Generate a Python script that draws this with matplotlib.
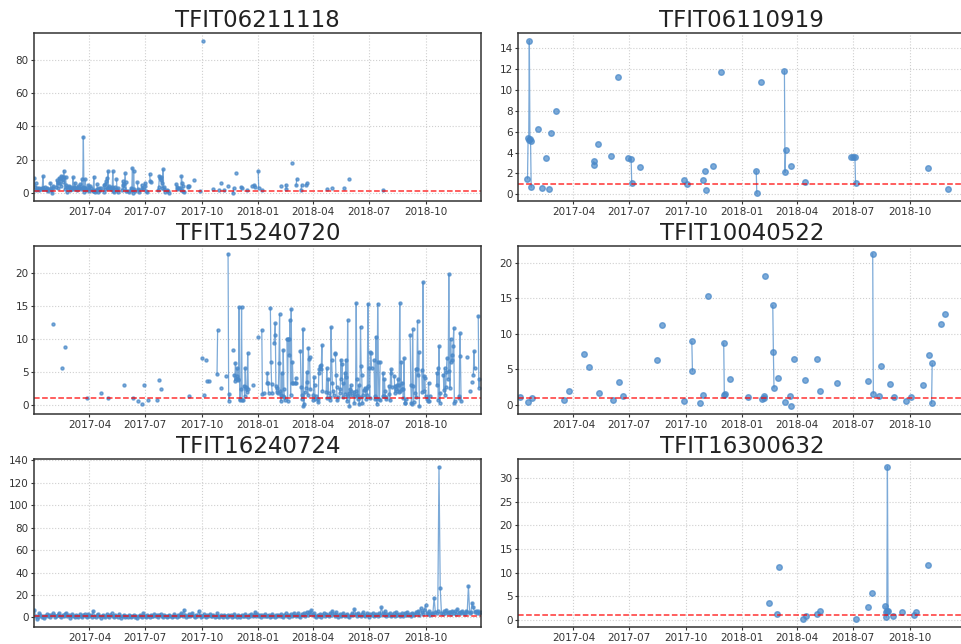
import numpy as np
import pandas as pd
import matplotlib
matplotlib.use("Agg")
import matplotlib.pyplot as plt
import matplotlib.dates as mdates
from matplotlib.ticker import MultipleLocator

# daily readings, each run = (first day, consecutive daily values); gaps = no reading
runs_06211118 = [
    ("2017-01-01", [8.8, 3.5, 5.5, 1.5, 2.5]),
    ("2017-01-08", [3.0, 1.5, 2.0]),
    ("2017-01-13", [2.0, 2.5, 10.0, 3.0, 2.0, 3.5]),
    ("2017-01-21", [1.5, 3.0, 2.0, 0.8]),
    ("2017-01-27", [6.0, 3.0, 1.5, -0.5, 2.5, 4.0]),
    ("2017-02-06", [3.5, 7.5, 2.5, 6.0, 9.0, 5.5, 8.0, 10.0, 4.0, 9.5, 6.5, 8.0, 13.3, 9.5, 2.0, 9.5, 4.5, 0.5, 3.5]),
    ("2017-02-26", [2.5, 4.0, 1.5, 3.5, 2.0, 3.0, 2.0, 9.3, 3.5, 2.0, 6.0, 2.5, 3.0]),
    ("2017-03-12", [1.5, 4.0, 2.5, 3.0]),
    ("2017-03-17", [5.0, 2.0, 3.0, 8.0, 3.5, 33.8, 0.5, 2.5, 8.0, 3.0, 1.5]),
    ("2017-03-30", [4.5, 2.0, 1.0, 4.0, 3.0]),
    ("2017-04-06", [1.5, 1.0, 9.7, 1.0, 0.5, 1.5]),
    ("2017-04-13", [5.0, 2.0, 0.5, 1.5, 3.0, 1.5, 2.5]),
    ("2017-04-24", [4.5, 0.5, 2.0, 5.0, 7.0, 9.0, 3.0, 13.0, 2.5, 4.0, 3.0]),
    ("2017-05-06", [2.0, 3.5, 2.0, 13.0, 1.0, 0.5, 3.5, 2.0]),
    ("2017-05-15", [8.0, 1.5, 0.5, 2.5]),
    ("2017-05-24", [1.5, 7.0, 4.5, 3.0, 5.0, 11.7, 6.6, 1.0]),
    ("2017-06-03", [1.0, 0.5]),
    ("2017-06-07", [1.5, 3.0, 2.0, 14.7, -0.3, 13.3, 2.0, 1.0]),
    ("2017-06-18", [6.2, 2.0, 1.5, 0.5]),
    ("2017-06-25", [4.6, 3.0, 2.0]),
    ("2017-06-30", [5.6, 4.0, 1.0, 0.5]),
    ("2017-07-08", [11.3, 7.0, 6.5]),
    ("2017-07-22", [1.5, 3.5, 10.3, 8.7, 9.5, 7.5, 6.0, 3.0, 14.0, 3.6, 2.0, 0.5]),
    ("2017-08-06", [1.5, 0.8, -0.4]),
    ("2017-08-20", [5.0, 3.5, 2.0, 2.5]),
    ("2017-08-27", [3.0, 1.5, 10.0, 6.0, 4.0, 1.0, 0.5]),
    ("2017-09-08", [4.2, 3.5, 4.0]),
    ("2017-09-19", [7.6]),
    ("2017-09-29", [1.0]),
    ("2017-10-03", [92.0]),
    ("2017-10-19", [2.0]),
    ("2017-10-29", [1.4]),
    ("2017-11-02", [5.7]),
    ("2017-11-07", [1.4]),
    ("2017-11-13", [4.2]),
    ("2017-11-21", [-0.4, 2.5]),
    ("2017-11-26", [11.7]),
    ("2017-12-04", [3.4, 2.5]),
    ("2017-12-14", [1.8]),
    ("2017-12-22", [3.9]),
    ("2017-12-26", [4.4, 3.5]),
    ("2018-01-01", [13.1, 2.9]),
    ("2018-01-08", [1.4]),
    ("2018-02-07", [4.2]),
    ("2018-02-15", [4.8, 2.2]),
    ("2018-02-26", [17.7]),
    ("2018-03-04", [4.4, 8.0]),
    ("2018-03-12", [1.8, 4.4]),
    ("2018-03-20", [4.5, 5.5]),
    ("2018-04-24", [2.0]),
    ("2018-05-02", [2.5]),
    ("2018-05-21", [2.5]),
    ("2018-05-30", [8.0]),
    ("2018-07-23", [1.5]),
]

runs_06110919 = [
    ("2017-01-16", [1.5, 5.4, 5.2, 14.7, 5.3, 5.1, 0.7]),
    ("2017-02-02", [6.3]),
    ("2017-02-08", [0.6]),
    ("2017-02-15", [3.5]),
    ("2017-02-20", [0.5]),
    ("2017-02-23", [5.9]),
    ("2017-03-03", [7.95]),
    ("2017-05-04", [3.15, 2.85]),
    ("2017-05-11", [4.8]),
    ("2017-06-01", [3.7]),
    ("2017-06-13", [11.2]),
    ("2017-06-29", [3.5]),
    ("2017-07-04", [3.35, 1.1]),
    ("2017-07-18", [2.6]),
    ("2017-09-29", [1.35]),
    ("2017-10-03", [1.0]),
    ("2017-10-30", [1.35]),
    ("2017-11-01", [2.25]),
    ("2017-11-03", [0.4]),
    ("2017-11-15", [2.75]),
    ("2017-11-28", [11.7]),
    ("2018-01-24", [2.25, 0.1]),
    ("2018-02-01", [10.7]),
    ("2018-03-11", [11.8, 2.1, 4.25]),
    ("2018-03-21", [2.7]),
    ("2018-04-13", [1.2]),
    ("2018-06-28", [3.6]),
    ("2018-07-01", [3.6]),
    ("2018-07-04", [3.6, 1.05]),
    ("2018-10-31", [2.5]),
    ("2018-12-02", [0.55]),
]

runs_15240720 = [
    ("2017-02-01", [12.3]),
    ("2017-02-15", [5.6]),
    ("2017-02-20", [8.8]),
    ("2017-03-28", [1.0]),
    ("2017-04-19", [1.9]),
    ("2017-05-01", [1.0]),
    ("2017-05-28", [3.0]),
    ("2017-06-11", [1.0]),
    ("2017-06-19", [0.6]),
    ("2017-06-26", [0.15]),
    ("2017-06-29", [3.0]),
    ("2017-07-06", [0.75]),
    ("2017-07-20", [0.75]),
    ("2017-07-24", [3.8]),
    ("2017-07-26", [2.4]),
    ("2017-09-11", [1.4]),
    ("2017-10-02", [7.2]),
    ("2017-10-04", [1.6]),
    ("2017-10-08", [6.8]),
    ("2017-10-10", [3.6]),
    ("2017-10-13", [3.7]),
    ("2017-10-26", [4.7, 11.4]),
    ("2017-11-01", [2.6]),
    ("2017-11-10", [4.4]),
    ("2017-11-13", [23.0, 0.65, 1.7]),
    ("2017-11-21", [8.4]),
    ("2017-11-23", [4.6, 3.7, 6.4, 3.9, 4.4, 5.6, 4.0, 3.8, 14.9, 0.7, 0.9, 2.5, 14.9, 0.8, 0.7]),
    ("2017-12-09", [2.9, 1.4, 5.6, 2.5, 2.8, 2.0, 7.9, 2.5]),
    ("2017-12-24", [3.1]),
    ("2018-01-01", [10.3]),
    ("2018-01-07", [11.4, 1.7]),
    ("2018-01-11", [1.8]),
    ("2018-01-15", [3.3, 4.9, 3.4, 1.9]),
    ("2018-01-21", [14.7, 6.5, 3.2, 1.9]),
    ("2018-01-27", [9.4, 10.7, 12.4, 2.9, 2.0, 2.6]),
    ("2018-02-03", [1.9, 6.4, 13.8, 2.1, 0.6, 1.5, 4.9, 1.3, 8.4, 2.5, 1.2, 0.8]),
    ("2018-02-17", [10.1, 0.6, 10.1, 10.1, 7.6, 12.9, 1.5, 14.6, 3.4, 6.5, 3.3]),
    ("2018-03-02", [3.4, 3.3, 4.1]),
    ("2018-03-11", [8.2, 2.8, 0.85, 1.5, 11.5, -0.2, 0.2, 2.0]),
    ("2018-03-20", [2.6, 5.0, 3.5, 1.5, 8.7, 7.0, 7.3, 2.4]),
    ("2018-03-31", [0.8, 1.6, 4.2, 3.0, 0.9, 1.3]),
    ("2018-04-08", [0.85, 0.4, 4.9, 5.4, 6.0, 6.1, 5.5, 9.1, 2.2]),
    ("2018-04-22", [2.0, 5.6, 1.0, 3.9, 1.9]),
    ("2018-04-28", [0.8, 1.2, 11.8, 6.8, 3.4, 2.1, 1.6]),
    ("2018-05-06", [7.7, 7.9, 4.5, 2.7, 0.7, 1.2]),
    ("2018-05-14", [1.9, 2.5, 6.9, 4.0, 6.3, 1.2, 3.3]),
    ("2018-05-22", [4.9, 1.7, 6.9, 4.2, 0.6, 12.9, 1.4, 1.9, -0.2, 2.4, 3.0, 2.1, 1.5]),
    ("2018-06-06", [2.0, 0.3, 1.4, 2.2, 15.5, 3.9, 1.6, 0.9, 3.0, 0.1, 1.2, 11.9, 6.0, 4.6, 0.3, 1.5, 2.3]),
    ("2018-06-24", [2.6, 2.3, 0.9, 2.6, 1.5, 15.4, 2.9, 5.6, 1.1, 8.0, 7.9, 5.6]),
    ("2018-07-09", [6.8, 1.3, 0.9, 10.4, 1.1, 0.2, 15.4, 6.6, 0.9, 0.8, 6.6]),
    ("2018-07-23", [1.35, 4.9, 1.3, 3.9, 2.2, 0.9, 1.2]),
    ("2018-08-02", [2.9, 1.7, 0.7, 4.9, 5.4, 2.7]),
    ("2018-08-11", [4.4, 1.8, 2.9, 2.5, 3.0, 2.2, 3.9, 2.0, 3.0, 15.5, 2.1, 6.6, 2.5, 3.4, 2.4, 1.0, 7.1, 0.35, 0.3, 0.85]),
    ("2018-09-06", [10.6, 3.1, 0.3, 0.2, 11.5, 2.9, 0.5]),
    ("2018-09-14", [1.9, 5.5, 1.2, 5.4, 12.8, 4.5, 8.0, -0.2]),
    ("2018-09-25", [5.3, 2.0, 18.7, 2.1, 4.4, 4.1, 1.3]),
    ("2018-10-04", [0.85, 0.6, 3.4, 0.6, 1.35]),
    ("2018-10-19", [4.9, 3.0, 5.6, 0.8, 8.9, 0.35, 1.9]),
    ("2018-10-30", [4.6, 2.3, 5.6, 1.6, 2.7, 5.0, 7.1]),
    ("2018-11-07", [4.0, 19.9, 5.1, 2.6, 10.1, 6.6, 7.6, 6.8, 9.0, 11.7, 0.35, 0.6]),
    ("2018-11-24", [1.35, 1.0, 10.9, 7.4, 0.6]),
    ("2018-12-07", [7.3]),
    ("2018-12-12", [2.1]),
    ("2018-12-16", [3.5]),
    ("2018-12-18", [4.6, 8.2, 5.6]),
    ("2018-12-26", [13.5, 2.6, 4.0]),
]

runs_10040522 = [
    ("2017-01-03", [1.08]),
    ("2017-01-17", [0.47]),
    ("2017-01-23", [0.94]),
    ("2017-03-17", [0.66]),
    ("2017-03-24", [1.9]),
    ("2017-04-18", [7.2]),
    ("2017-04-27", [5.3]),
    ("2017-05-12", [1.64]),
    ("2017-06-05", [0.66]),
    ("2017-06-14", [3.3]),
    ("2017-06-21", [1.26]),
    ("2017-08-16", [6.3]),
    ("2017-08-24", [11.3]),
    ("2017-09-29", [0.56]),
    ("2017-10-11", [8.95, 4.8]),
    ("2017-10-24", [0.23]),
    ("2017-10-30", [1.36]),
    ("2017-11-07", [15.4]),
    ("2017-12-02", [8.7, 1.45, 1.6]),
    ("2017-12-12", [3.6]),
    ("2018-01-10", [1.17]),
    ("2018-02-02", [0.84]),
    ("2018-02-05", [1.3, 0.94]),
    ("2018-02-08", [18.1]),
    ("2018-02-20", [14.0, 7.45, 2.4]),
    ("2018-02-28", [3.75]),
    ("2018-03-12", [0.42]),
    ("2018-03-20", [1.3]),
    ("2018-03-22", [-0.2]),
    ("2018-03-27", [6.5]),
    ("2018-04-13", [3.5]),
    ("2018-05-03", [6.4]),
    ("2018-05-08", [2.0]),
    ("2018-06-05", [3.1]),
    ("2018-07-25", [3.4]),
    ("2018-08-02", [21.3, 1.6]),
    ("2018-08-13", [1.26]),
    ("2018-08-15", [5.5]),
    ("2018-08-30", [2.9]),
    ("2018-09-06", [1.08]),
    ("2018-09-25", [0.5]),
    ("2018-10-03", [1.17]),
    ("2018-10-23", [2.76]),
    ("2018-11-01", [7.0]),
    ("2018-11-06", [0.23, 5.85]),
    ("2018-11-21", [11.4]),
    ("2018-11-28", [12.8]),
]

# TFIT16240724: read every second day, 2017-01-01 .. 2018-12-30
values_16240724 = [
    7.0, 1.5, -1.8, 0.5, 3.5, 2.0, 0.5, 1.0, -0.5, 0.8, 3.0, 1.5, 2.5, 0.5, 1.8, 3.5, 2.0, 0.2, 1.0, 2.5,
    4.0, 1.5, 0.5, 2.5, 1.0, 3.0, 4.0, 0.8, 2.0, -0.5, 1.5, 3.0, 1.0, 0.5, 2.0, 1.5, 0.5, 2.8, 1.0, 0.3,
    2.5, 3.0, 1.2, 0.5, 3.0, 1.0, 2.5, 0.5, 5.5, 1.5, 0.5, 2.0, 3.0, 0.8, -0.5, 1.5, 2.5, 1.0, 0.3, 3.0,
    1.5, 0.5, 2.5, 3.5, 1.0, 0.2, 2.0, 1.5, 0.5, 3.0, 1.0, -0.3, 1.5, 2.5, 0.5, 1.0, 0.5, 2.0, 1.5, 0.3,
    1.0, 2.5, 0.5, 1.5, -0.5, 0.8, 2.0, 1.0, 0.5, 3.5, 1.5, 0.5, 2.0, 1.0, 0.3, 2.5, 1.5, 0.8, 3.0, 1.0,
    2.5, 0.5, 1.8, 3.0, 1.0, 0.5, 2.0, 1.5, 0.2, 1.0, 2.5, 1.0, 0.5, 1.5, 3.0, 1.2, 0.5, 2.0, 1.0, 2.5,
    3.5, 1.0, 7.0, 2.0, 0.5, 1.5, 3.0, 0.8, 2.0, 4.0, 1.0, 0.5, 2.5, 1.5, 6.0, 2.0, 0.5, 1.0, 3.0, 1.5,
    0.5, 2.0, 1.5, 3.0, 0.8, 1.0, 2.5, 0.5, 1.5, 3.5, 1.0, 0.3, 2.0, 1.5, 0.5, 2.5, 1.0, 0.5, 1.8, 1.0,
    2.5, 0.5, 1.5, 3.0, 1.0, 0.5, 2.0, 1.2, 0.3, 2.5, 1.5, 0.8, 3.0, 1.0, 0.5, 2.0, 1.5, 3.0, 1.0, 2.5,
    5.0, 1.5, 3.0, 1.0, 2.5, 0.5, 2.0, 1.5, 3.0, 0.8, 1.0, 2.5, 0.5, 1.5, 3.0, 1.0, 0.5, 2.0, 1.5, 2.5,
    1.0, 3.0, 1.5, 0.5, 2.5, 3.5, 1.0, 2.0, 0.5, 3.0, 1.5, 2.5, 4.0, 1.0, 2.0, 3.5, 1.5, 0.5, 3.0, 2.0,
    3.5, 1.5, 4.5, 2.0, 5.0, 3.0, 6.5, 2.5, 4.0, 1.5, 0.5, 2.5, 1.0, 3.0, 0.5, 2.0, 4.0, 1.5, 3.0, 2.5,
    1.0, 4.0, 2.5, 6.0, 3.0, 1.5, 4.5, 2.0, 0.5, 3.0, 1.5, 2.5, 4.0, 1.0, 2.0, 3.0, 1.5, 0.5, 2.5, 3.5,
    2.0, 7.5, 3.0, 1.5, 4.0, 2.5, 1.0, 3.0, 4.5, 2.0, 1.0, 3.5, 2.5, 0.5, 3.0, 2.0, 4.0, 1.5, 2.5, 3.0,
    1.5, 3.5, 2.0, 9.0, 4.0, 2.5, 5.5, 1.5, 3.0, 2.0, 4.0, 1.0, 2.5, 3.5, 1.5, 4.5, 2.0, 3.0, 1.0, 2.5,
    3.5, 1.5, 4.0, 2.0, 5.0, 2.5, 3.0, 1.5, 4.0, 3.0, 2.0, 4.5, 3.5, 6.0, 2.5, 8.0, 4.5, 3.0, 6.5, 11.0,
    4.0, 3.0, 5.5, 2.5, 4.0, 3.0, 17.5, 5.0, 3.5, 6.0, 134.5, 26.0, 4.0, 3.0, 5.5, 4.0, 7.0, 3.5, 5.0, 4.5,
    3.0, 6.0, 4.0, 5.5, 3.0, 7.5, 4.0, 5.0, 3.5, 6.0, 4.0, 3.0, 5.5, 4.5, 28.0, 4.0, 5.0, 13.0, 9.0, 4.5,
    6.0, 4.0, 5.5, 3.5, 4.5,
]

runs_16300632 = [
    ("2018-02-14", [3.5]),
    ("2018-02-27", [1.26]),
    ("2018-03-02", [11.1]),
    ("2018-04-11", [0.2]),
    ("2018-04-15", [0.84]),
    ("2018-05-03", [1.2]),
    ("2018-05-08", [2.0]),
    ("2018-07-05", [0.14]),
    ("2018-07-26", [2.7]),
    ("2018-08-01", [5.8]),
    ("2018-08-22", [2.9, 1.75, 0.56, 2.0, 32.4, 2.0]),
    ("2018-09-04", [0.84]),
    ("2018-09-19", [1.6]),
    ("2018-10-08", [1.05]),
    ("2018-10-12", [1.75]),
    ("2018-10-31", [11.6]),
]

tick_dates = ["2017-04-01", "2017-07-01", "2017-10-01", "2018-01-01",
              "2018-04-01", "2018-07-01", "2018-10-01"]

BLUE = "#4a89c9"
START, END = "2017-01-01", "2018-12-31"


def daily(runs):
    parts = []
    for start, vals in runs:
        idx = pd.date_range(start, periods=len(vals), freq="D")
        parts.append(pd.Series(vals, index=idx, dtype=float))
    s = pd.concat(parts)
    s = s[~s.index.duplicated()]
    return s.reindex(pd.date_range(START, END, freq="D"))


s5 = pd.Series(values_16240724,
               index=pd.date_range(START, periods=len(values_16240724), freq="2D"))

panels = [
    ("TFIT06211118", daily(runs_06211118), 20, 2.2),
    ("TFIT06110919", daily(runs_06110919), 2, 4.0),
    ("TFIT15240720", daily(runs_15240720), 5, 2.2),
    ("TFIT10040522", daily(runs_10040522), 5, 4.0),
    ("TFIT16240724", s5, 20, 2.2),
    ("TFIT16300632", daily(runs_16300632), 5, 4.0),
]

fig = plt.figure(figsize=(9.62, 6.44), dpi=100)
lefts = [34.3 / 962, 518.3 / 962]
w = 447 / 962
h = 168 / 644
bottoms = [1 - 201 / 644, 1 - 414 / 644, 1 - 627 / 644]

for i, (name, s, step, ms) in enumerate(panels):
    ax = fig.add_axes([lefts[i % 2], bottoms[i // 2], w, h])
    ax.plot(s.index, s.values, marker="o", ms=ms, lw=0.9, color=BLUE, alpha=0.72)
    ax.axhline(1, color="red", ls="--", lw=1.1, alpha=0.8)
    ax.set_xlim(pd.Timestamp(START), pd.Timestamp(END))
    ax.set_xticks(pd.to_datetime(tick_dates))
    ax.xaxis.set_major_formatter(mdates.DateFormatter("%Y-%m"))
    ax.yaxis.set_major_locator(MultipleLocator(step))
    ax.grid(True, ls=":", color="#cfcfcf", lw=0.8)
    ax.set_axisbelow(True)
    ax.tick_params(labelsize=7.5, colors="#333333", length=2.5, width=0.8, pad=1.5)
    for sp in ax.spines.values():
        sp.set_color("#333333")
        sp.set_linewidth(1.1)
    ax.set_title(name, fontsize=16.5, pad=4, color="#222222")

plt.savefig("out.png", dpi=100)
